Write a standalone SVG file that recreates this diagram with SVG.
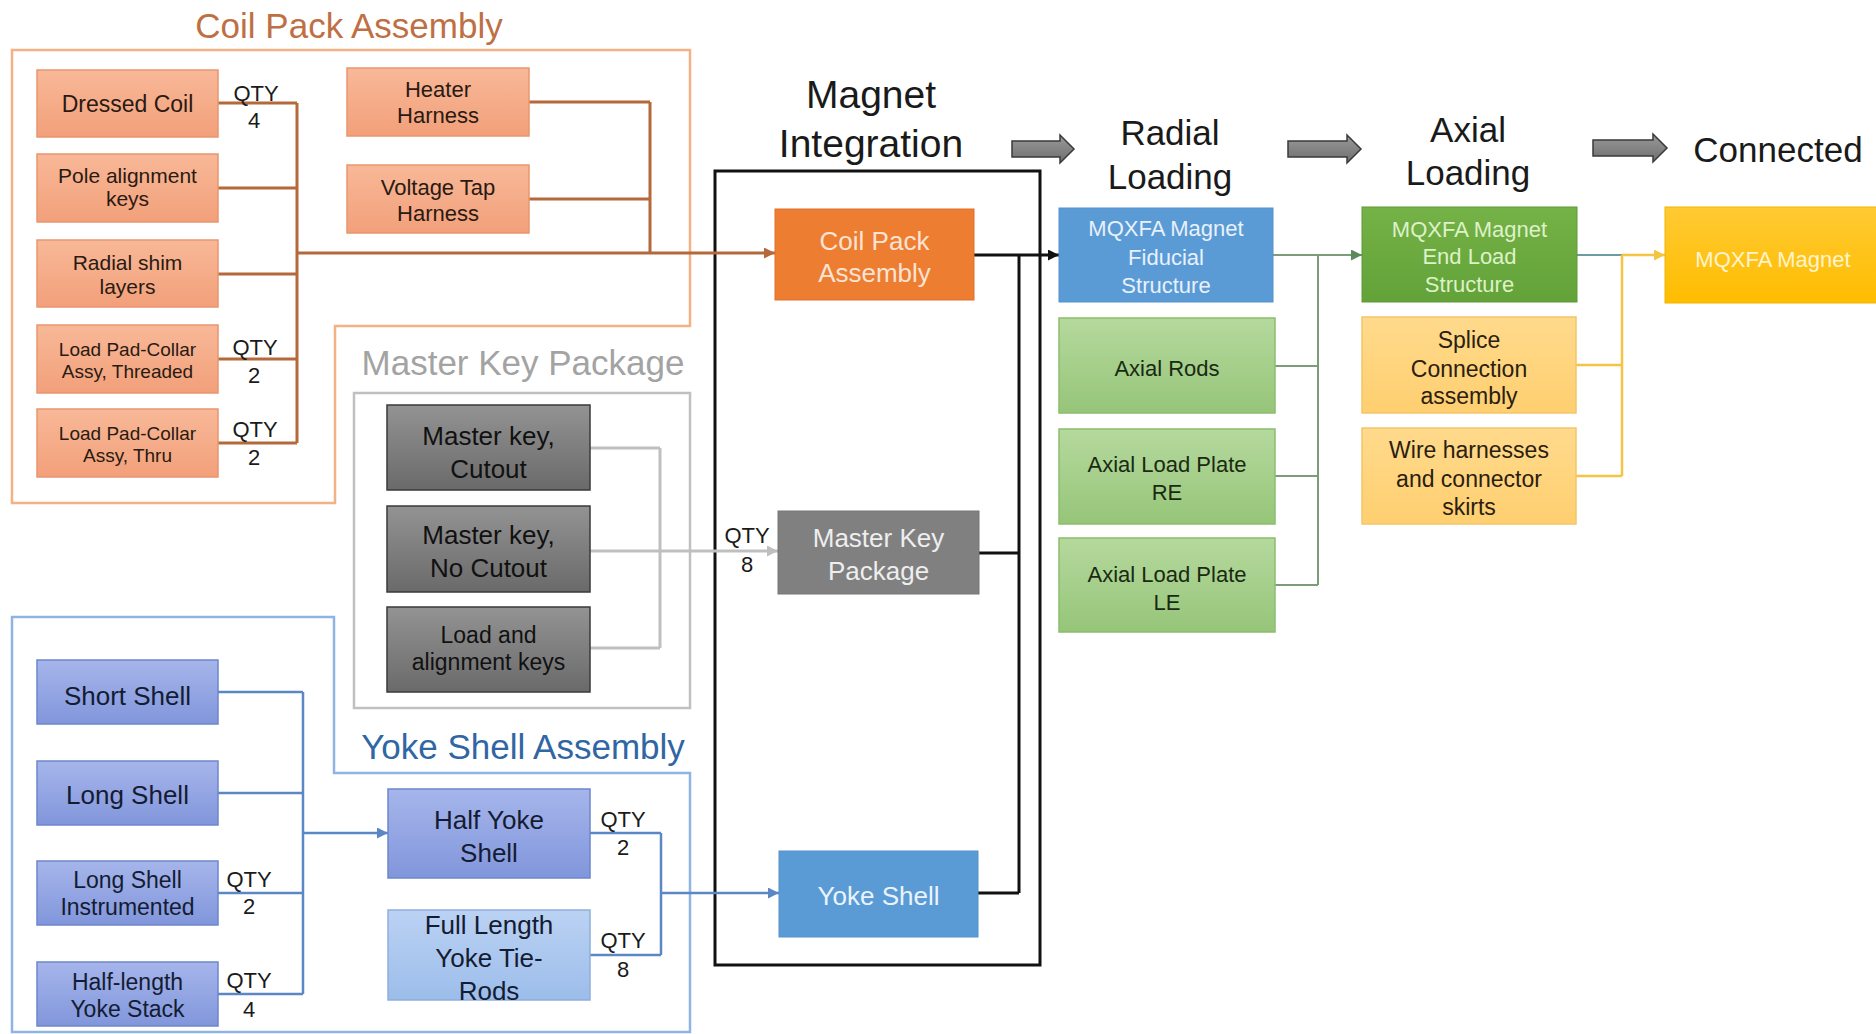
<svg xmlns="http://www.w3.org/2000/svg" width="1876" height="1034" viewBox="0 0 1876 1034">
<style>
text{font-family:"Liberation Sans",Arial,sans-serif;text-anchor:middle}
.title{font-size:35px}
.stage{font-size:35px;fill:#1a1a1a}
.qty{font-size:22px;fill:#1a1a1a}
.dk{fill:#2a1a12}
.cb{stroke:#B5693A;stroke-width:3;fill:none}
.mk{stroke:#BFBFBF;stroke-width:3;fill:none}
.yk{stroke:#5B87C5;stroke-width:2.5;fill:none}
.bk{stroke:#111;stroke-width:3;fill:none}
.gr{stroke:#7C9C7A;stroke-width:2;fill:none}
.yl{stroke:#F5C443;stroke-width:2.5;fill:none}
</style>
<defs>
<linearGradient id="gSal" x1="0" y1="0" x2="0" y2="1"><stop offset="0" stop-color="#F8B898"/><stop offset="1" stop-color="#F2A07A"/></linearGradient>
<linearGradient id="gGry" x1="0" y1="0" x2="0" y2="1"><stop offset="0" stop-color="#939393"/><stop offset="1" stop-color="#6A6A6A"/></linearGradient>
<linearGradient id="gBlu" x1="0" y1="0" x2="0" y2="1"><stop offset="0" stop-color="#A6B5EB"/><stop offset="1" stop-color="#8196DB"/></linearGradient>
<linearGradient id="gLBl" x1="0" y1="0" x2="0" y2="1"><stop offset="0" stop-color="#BBD2F3"/><stop offset="1" stop-color="#9CBDEA"/></linearGradient>
<linearGradient id="gGrn" x1="0" y1="0" x2="0" y2="1"><stop offset="0" stop-color="#B5D99D"/><stop offset="1" stop-color="#96C579"/></linearGradient>
<linearGradient id="gYel" x1="0" y1="0" x2="0" y2="1"><stop offset="0" stop-color="#FFDA8C"/><stop offset="1" stop-color="#FFCF70"/></linearGradient>
<linearGradient id="gDGr" x1="0" y1="0" x2="0" y2="1"><stop offset="0" stop-color="#75B247"/><stop offset="1" stop-color="#62A238"/></linearGradient>
<linearGradient id="gGold" x1="0" y1="0" x2="0" y2="1"><stop offset="0" stop-color="#FFCA33"/><stop offset="1" stop-color="#FFBD00"/></linearGradient>
<linearGradient id="gArr" x1="0" y1="0" x2="0" y2="1"><stop offset="0" stop-color="#9A9A9A"/><stop offset="1" stop-color="#6E6E6E"/></linearGradient>
<marker id="aBr" viewBox="0 0 10 10" refX="10" refY="5" markerWidth="11" markerHeight="11" markerUnits="userSpaceOnUse" orient="auto"><path d="M0,0 L10,5 L0,10 z" fill="#B5693A"/></marker>
<marker id="aGy" viewBox="0 0 10 10" refX="10" refY="5" markerWidth="11" markerHeight="11" markerUnits="userSpaceOnUse" orient="auto"><path d="M0,0 L10,5 L0,10 z" fill="#BFBFBF"/></marker>
<marker id="aBl" viewBox="0 0 10 10" refX="10" refY="5" markerWidth="11" markerHeight="11" markerUnits="userSpaceOnUse" orient="auto"><path d="M0,0 L10,5 L0,10 z" fill="#5B87C5"/></marker>
<marker id="aBk" viewBox="0 0 10 10" refX="10" refY="5" markerWidth="11" markerHeight="11" markerUnits="userSpaceOnUse" orient="auto"><path d="M0,0 L10,5 L0,10 z" fill="#111"/></marker>
<marker id="aGn" viewBox="0 0 10 10" refX="10" refY="5" markerWidth="11" markerHeight="11" markerUnits="userSpaceOnUse" orient="auto"><path d="M0,0 L10,5 L0,10 z" fill="#5E8A5A"/></marker>
<marker id="aYl" viewBox="0 0 10 10" refX="10" refY="5" markerWidth="11" markerHeight="11" markerUnits="userSpaceOnUse" orient="auto"><path d="M0,0 L10,5 L0,10 z" fill="#F5C443"/></marker>
</defs>
<rect width="1876" height="1034" fill="#fff"/>

<!-- group containers -->
<g id="coil-pack-group">
<polygon points="12,50 690,50 690,326 335,326 335,503 12,503" fill="none" stroke="#F4B183" stroke-width="2.5"/>
<text class="title" x="349" y="38" fill="#BF6F44">Coil Pack Assembly</text>
</g>
<g id="master-key-group">
<rect x="354" y="393" width="336" height="315" fill="none" stroke="#C0C0C0" stroke-width="2.5"/>
<text class="title" x="523" y="375" fill="#A3A3A3">Master Key Package</text>
</g>
<g id="yoke-shell-group">
<polygon points="12,617 334,617 334,773 690,773 690,1032 12,1032" fill="none" stroke="#8EB4E3" stroke-width="2.5"/>
<text class="title" x="523" y="759" fill="#2F66A3">Yoke Shell Assembly</text>
</g>
<g id="magnet-integration">
<rect x="715" y="171" width="325" height="794" fill="none" stroke="#111" stroke-width="3"/>
<text x="871" y="108" style="font-size:39px;fill:#1a1a1a">Magnet</text>
<text x="871" y="157" style="font-size:39px;fill:#1a1a1a">Integration</text>
</g>
<g id="stage-titles">
<text class="stage" x="1170" y="145">Radial</text>
<text class="stage" x="1170" y="189">Loading</text>
<text class="stage" x="1468" y="142">Axial</text>
<text class="stage" x="1468" y="185">Loading</text>
<text class="stage" x="1778" y="162">Connected</text>
</g>
<g id="stage-arrows" fill="url(#gArr)" stroke="#3a3a3a" stroke-width="1.5">
<path d="M1012,141 H1060 V135 L1074,149 L1060,163 V157 H1012 Z"/>
<path d="M1288,141 H1347 V135 L1361,149 L1347,163 V157 H1288 Z"/>
<path d="M1593,140 H1653 V134 L1667,148 L1653,162 V156 H1593 Z"/>
</g>

<!-- connectors -->
<g id="connectors">
<path class="cb" d="M218,103 H297 M218,188 H297 M218,274 H297 M218,359 H297 M218,443 H297 M297,103 V443 M529,102 H650 M529,199 H650 M650,102 V253"/>
<path class="cb" d="M297,253 H775" marker-end="url(#aBr)"/>
<path class="mk" d="M590,448 H660 M590,648 H660 M660,448 V648"/>
<path class="mk" d="M590,551 H778" marker-end="url(#aGy)"/>
<path class="yk" d="M218,692 H303 M218,793 H303 M218,893 H303 M218,994 H303 M303,692 V994 M590,833 H661 M590,955 H661 M661,833 V955"/>
<path class="yk" d="M303,833 H388" marker-end="url(#aBl)"/>
<path class="yk" d="M661,893 H779" marker-end="url(#aBl)"/>
<path class="bk" d="M979,553 H1019 M978,893 H1019 M1019,255 V893"/>
<path class="bk" d="M974,255 H1059" marker-end="url(#aBk)"/>
<path class="gr" d="M1273,255 H1318 M1275,366 H1318 M1275,476 H1318 M1275,585 H1318 M1318,255 V585"/>
<path class="gr" stroke="#5E8A5A" d="M1318,255 H1362" marker-end="url(#aGn)"/>
<path d="M1577,255 H1622" stroke="#6F9AA0" stroke-width="2" fill="none"/>
<path class="yl" d="M1576,365 H1622 M1576,476 H1622 M1622,255 V476"/>
<path class="yl" d="M1622,255 H1665" marker-end="url(#aYl)"/>
</g>

<!-- QTY labels -->
<g id="qty-labels" class="qty">
<text x="256" y="101">QTY</text><text x="254" y="128">4</text>
<text x="255" y="355">QTY</text><text x="254" y="383">2</text>
<text x="255" y="437">QTY</text><text x="254" y="465">2</text>
<text x="747" y="543">QTY</text><text x="747" y="572">8</text>
<text x="249" y="887">QTY</text><text x="249" y="914">2</text>
<text x="249" y="988">QTY</text><text x="249" y="1017">4</text>
<text x="623" y="827">QTY</text><text x="623" y="855">2</text>
<text x="623" y="948">QTY</text><text x="623" y="977">8</text>
</g>

<!-- Coil pack sub-nodes -->
<g id="dressed-coil"><rect x="37" y="70" width="181" height="67" fill="url(#gSal)" stroke="#E8966F" stroke-width="1.5"/><text class="dk" x="127.5" y="112" font-size="23">Dressed Coil</text></g>
<g id="pole-alignment-keys"><rect x="37" y="154" width="181" height="68" fill="url(#gSal)" stroke="#E8966F" stroke-width="1.5"/><text class="dk" x="127.5" y="183" font-size="21">Pole alignment</text><text class="dk" x="127.5" y="206" font-size="21">keys</text></g>
<g id="radial-shim-layers"><rect x="37" y="240" width="181" height="67" fill="url(#gSal)" stroke="#E8966F" stroke-width="1.5"/><text class="dk" x="127.5" y="270" font-size="21">Radial shim</text><text class="dk" x="127.5" y="294" font-size="21">layers</text></g>
<g id="load-pad-threaded"><rect x="37" y="325" width="181" height="68" fill="url(#gSal)" stroke="#E8966F" stroke-width="1.5"/><text class="dk" x="127.5" y="356" font-size="19">Load Pad-Collar</text><text class="dk" x="127.5" y="378" font-size="19">Assy, Threaded</text></g>
<g id="load-pad-thru"><rect x="37" y="409" width="181" height="68" fill="url(#gSal)" stroke="#E8966F" stroke-width="1.5"/><text class="dk" x="127.5" y="440" font-size="19">Load Pad-Collar</text><text class="dk" x="127.5" y="462" font-size="19">Assy, Thru</text></g>
<g id="heater-harness"><rect x="347" y="68" width="182" height="68" fill="url(#gSal)" stroke="#E8966F" stroke-width="1.5"/><text class="dk" x="438" y="97" font-size="22">Heater</text><text class="dk" x="438" y="123" font-size="22">Harness</text></g>
<g id="voltage-tap-harness"><rect x="347" y="165" width="182" height="68" fill="url(#gSal)" stroke="#E8966F" stroke-width="1.5"/><text class="dk" x="438" y="195" font-size="22">Voltage Tap</text><text class="dk" x="438" y="221" font-size="22">Harness</text></g>

<!-- Master key sub-nodes -->
<g id="master-key-cutout"><rect x="387" y="405" width="203" height="85" fill="url(#gGry)" stroke="#3a3a3a" stroke-width="1.5"/><text x="488.5" y="445" font-size="26" fill="#111">Master key,</text><text x="488.5" y="478" font-size="26" fill="#111">Cutout</text></g>
<g id="master-key-no-cutout"><rect x="387" y="506" width="203" height="86" fill="url(#gGry)" stroke="#3a3a3a" stroke-width="1.5"/><text x="488.5" y="544" font-size="26" fill="#111">Master key,</text><text x="488.5" y="577" font-size="26" fill="#111">No Cutout</text></g>
<g id="load-alignment-keys"><rect x="387" y="607" width="203" height="85" fill="url(#gGry)" stroke="#3a3a3a" stroke-width="1.5"/><text x="488.5" y="643" font-size="23" fill="#111">Load and</text><text x="488.5" y="670" font-size="23" fill="#111">alignment keys</text></g>

<!-- Yoke sub-nodes -->
<g id="short-shell"><rect x="37" y="660" width="181" height="64" fill="url(#gBlu)" stroke="#6E86CC" stroke-width="1.5"/><text x="127.5" y="705" font-size="26" fill="#141c33">Short Shell</text></g>
<g id="long-shell"><rect x="37" y="761" width="181" height="64" fill="url(#gBlu)" stroke="#6E86CC" stroke-width="1.5"/><text x="127.5" y="804" font-size="26" fill="#141c33">Long Shell</text></g>
<g id="long-shell-instrumented"><rect x="37" y="861" width="181" height="64" fill="url(#gBlu)" stroke="#6E86CC" stroke-width="1.5"/><text x="127.5" y="888" font-size="23" fill="#141c33">Long Shell</text><text x="127.5" y="915" font-size="23" fill="#141c33">Instrumented</text></g>
<g id="half-length-yoke-stack"><rect x="37" y="962" width="181" height="64" fill="url(#gBlu)" stroke="#6E86CC" stroke-width="1.5"/><text x="127.5" y="990" font-size="23" fill="#141c33">Half-length</text><text x="127.5" y="1017" font-size="23" fill="#141c33">Yoke Stack</text></g>
<g id="half-yoke-shell"><rect x="388" y="789" width="202" height="89" fill="url(#gBlu)" stroke="#6E86CC" stroke-width="1.5"/><text x="489" y="829" font-size="26" fill="#141c33">Half Yoke</text><text x="489" y="862" font-size="26" fill="#141c33">Shell</text></g>
<g id="tie-rods"><rect x="388" y="910" width="202" height="90" fill="url(#gLBl)" stroke="#8EAEDD" stroke-width="1.5"/><text x="489" y="934" font-size="26" fill="#141c33">Full Length</text><text x="489" y="967" font-size="26" fill="#141c33">Yoke Tie-</text><text x="489" y="1000" font-size="26" fill="#141c33">Rods</text></g>

<!-- Magnet integration nodes -->
<g id="coil-pack-assembly"><rect x="775" y="209" width="199" height="91" fill="#ED7D31" stroke="#E07028" stroke-width="1"/><text x="874.5" y="250" font-size="26" fill="#FBE3D3">Coil Pack</text><text x="874.5" y="282" font-size="26" fill="#FBE3D3">Assembly</text></g>
<g id="master-key-package"><rect x="778" y="511" width="201" height="83" fill="#808080" stroke="#777" stroke-width="1"/><text x="878.5" y="547" font-size="26" fill="#EEEEEE">Master Key</text><text x="878.5" y="580" font-size="26" fill="#EEEEEE">Package</text></g>
<g id="yoke-shell"><rect x="779" y="851" width="199" height="86" fill="#5B9BD5" stroke="#5592CC" stroke-width="1"/><text x="878.5" y="905" font-size="26" fill="#EAF3FB">Yoke Shell</text></g>

<!-- Radial loading nodes -->
<g id="fiducial-structure"><rect x="1059" y="208" width="214" height="94" fill="#5B9BD5" stroke="#5592CC" stroke-width="1"/><text x="1166" y="236" font-size="22" fill="#E8F1FB">MQXFA Magnet</text><text x="1166" y="265" font-size="22" fill="#E8F1FB">Fiducial</text><text x="1166" y="293" font-size="22" fill="#E8F1FB">Structure</text></g>
<g id="axial-rods"><rect x="1059" y="318" width="216" height="95" fill="url(#gGrn)" stroke="#8BBE6E" stroke-width="1.5"/><text x="1167" y="376" font-size="22" fill="#1a2a12">Axial Rods</text></g>
<g id="axial-load-plate-re"><rect x="1059" y="429" width="216" height="95" fill="url(#gGrn)" stroke="#8BBE6E" stroke-width="1.5"/><text x="1167" y="472" font-size="22" fill="#1a2a12">Axial Load Plate</text><text x="1167" y="500" font-size="22" fill="#1a2a12">RE</text></g>
<g id="axial-load-plate-le"><rect x="1059" y="538" width="216" height="94" fill="url(#gGrn)" stroke="#8BBE6E" stroke-width="1.5"/><text x="1167" y="582" font-size="22" fill="#1a2a12">Axial Load Plate</text><text x="1167" y="610" font-size="22" fill="#1a2a12">LE</text></g>

<!-- Axial loading nodes -->
<g id="end-load-structure"><rect x="1362" y="207" width="215" height="95" fill="url(#gDGr)" stroke="#5E9A36" stroke-width="1"/><text x="1469.5" y="237" font-size="22" fill="#DDF2C8">MQXFA Magnet</text><text x="1469.5" y="264" font-size="22" fill="#DDF2C8">End Load</text><text x="1469.5" y="292" font-size="22" fill="#DDF2C8">Structure</text></g>
<g id="splice-connection"><rect x="1362" y="317" width="214" height="96" fill="url(#gYel)" stroke="#F3C56A" stroke-width="1.5"/><text x="1469" y="348" font-size="23" fill="#2a2010">Splice</text><text x="1469" y="377" font-size="23" fill="#2a2010">Connection</text><text x="1469" y="404" font-size="23" fill="#2a2010">assembly</text></g>
<g id="wire-harnesses"><rect x="1362" y="428" width="214" height="96" fill="url(#gYel)" stroke="#F3C56A" stroke-width="1.5"/><text x="1469" y="458" font-size="23" fill="#2a2010">Wire harnesses</text><text x="1469" y="487" font-size="23" fill="#2a2010">and connector</text><text x="1469" y="515" font-size="23" fill="#2a2010">skirts</text></g>

<!-- Connected -->
<g id="mqxfa-magnet"><rect x="1665" y="207" width="215" height="96" fill="url(#gGold)" stroke="#F2B400" stroke-width="1"/><text x="1773" y="267" font-size="22" fill="#FFF4CF">MQXFA Magnet</text></g>
</svg>
